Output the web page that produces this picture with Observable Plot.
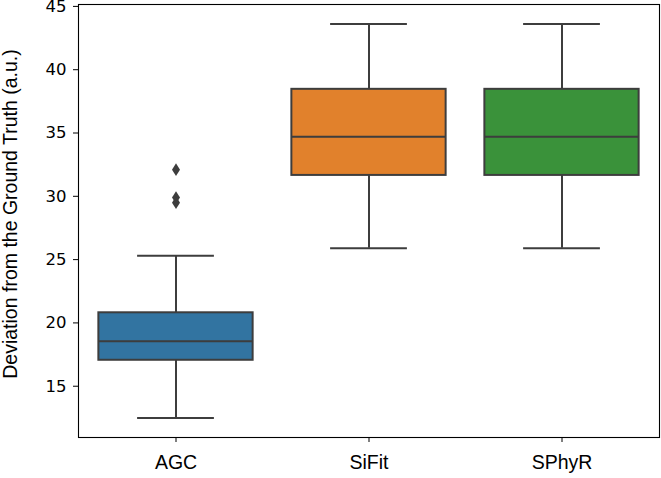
<!DOCTYPE html>
<html>
<head>
<meta charset="utf-8">
<script src="https://cdn.jsdelivr.net/npm/d3@7"></script>
<script src="https://cdn.jsdelivr.net/npm/@observablehq/plot@0.6"></script>
<style>
  html, body { margin: 0; padding: 0; background: #fff; }
  #chart svg { display: block; }
</style>
</head>
<body>
<div id="chart"></div>
<script>
const categories = ["AGC", "SiFit", "SPhyR"];
const whiskerLow = [12.5, 25.9, 25.9];
const q1 = [17.05, 31.65, 31.65];
const median = [18.55, 34.7, 34.7];
const q3 = [20.8, 38.45, 38.45];
const whiskerHigh = [25.3, 43.6, 43.6];
const outlierCategory = ["AGC", "AGC", "AGC"];
const outlierValue = [32.1, 29.9, 29.5];
const colors = ["#3274a1", "#e1812c", "#3a923a"];
const yTicks = [15, 20, 25, 30, 35, 40, 45];
const yLabel = "Deviation from the Ground Truth (a.u.)";

const boxes = categories.map((c, i) => ({
  cat: c, lo: whiskerLow[i], q1: q1[i], med: median[i], q3: q3[i], hi: whiskerHigh[i]
}));
const outliers = outlierCategory.map((c, i) => ({cat: c, v: outlierValue[i]}));

const lineColor = "#3d3d3d";
const W = 661, H = 478;
const mL = 78, mR = 2;
const band = (W - mL - mR) / categories.length;
const boxInset = band * 0.1;
const capInset = band * 0.3;

const thinDiamond = {
  draw(ctx, size) {
    const s = Math.sqrt(size / Math.PI);
    ctx.moveTo(0, -1.6 * s);
    ctx.lineTo(s, 0);
    ctx.lineTo(0, 1.6 * s);
    ctx.lineTo(-s, 0);
    ctx.closePath();
  }
};

const chart = Plot.plot({
  width: W,
  height: H,
  marginLeft: mL,
  marginRight: mR,
  marginTop: 4,
  marginBottom: 41,
  style: {background: "#fff", color: "#000"},
  x: {type: "band", domain: categories, padding: 0, label: null},
  y: {domain: [10.95, 45.15], label: null},
  color: {domain: categories, range: colors},
  marks: [
    Plot.ruleX(boxes, {x: "cat", y1: "lo", y2: "q1", stroke: lineColor, strokeWidth: 2}),
    Plot.ruleX(boxes, {x: "cat", y1: "q3", y2: "hi", stroke: lineColor, strokeWidth: 2}),
    Plot.tickY(boxes, {x: "cat", y: "lo", stroke: lineColor, strokeWidth: 2, insetLeft: capInset, insetRight: capInset}),
    Plot.tickY(boxes, {x: "cat", y: "hi", stroke: lineColor, strokeWidth: 2, insetLeft: capInset, insetRight: capInset}),
    Plot.barY(boxes, {x: "cat", y1: "q1", y2: "q3", fill: "cat", stroke: lineColor, strokeWidth: 2, insetLeft: boxInset, insetRight: boxInset}),
    Plot.tickY(boxes, {x: "cat", y: "med", stroke: lineColor, strokeWidth: 2, insetLeft: boxInset, insetRight: boxInset}),
    Plot.dot(outliers, {x: "cat", y: "v", symbol: thinDiamond, r: 4, fill: lineColor, stroke: "none"}),
    Plot.frame({stroke: "#000", strokeWidth: 1.1}),
    Plot.axisY({ticks: yTicks, tickSize: 5, tickPadding: 7, fontSize: 16.5, fontFamily: "DejaVu Sans",
      label: yLabel, labelAnchor: "center", labelArrow: "none", labelOffset: 75}),
    Plot.axisX({tickSize: 5, tickPadding: 13, fontSize: 19.5, fontFamily: "Liberation Sans", label: null})
  ]
});

document.getElementById("chart").appendChild(chart);

function setFont(el, family, size) {
  el.setAttribute("font-family", family);
  el.setAttribute("font-size", size);
}
chart.querySelectorAll("text").forEach(t => {
  const s = t.textContent.trim();
  const parent = t.parentNode;
  if (s === yLabel) {
    setFont(t, "Liberation Sans", 19.5);
    if (parent && parent.tagName === "g") setFont(parent, "Liberation Sans", 19.5);
    const wrap = document.createElementNS("http://www.w3.org/2000/svg", "g");
    wrap.setAttribute("transform", "translate(0,-7)");
    t.parentNode.insertBefore(wrap, t);
    wrap.appendChild(t);
  } else if (categories.includes(s)) {
    setFont(t, "Liberation Sans", 19.5);
    if (parent && parent.tagName === "g") setFont(parent, "Liberation Sans", 19.5);
  } else if (/^\d+$/.test(s)) {
    setFont(t, "DejaVu Sans", 16.5);
    if (parent && parent.tagName === "g") setFont(parent, "DejaVu Sans", 16.5);
  }
});
</script>
</body>
</html>
